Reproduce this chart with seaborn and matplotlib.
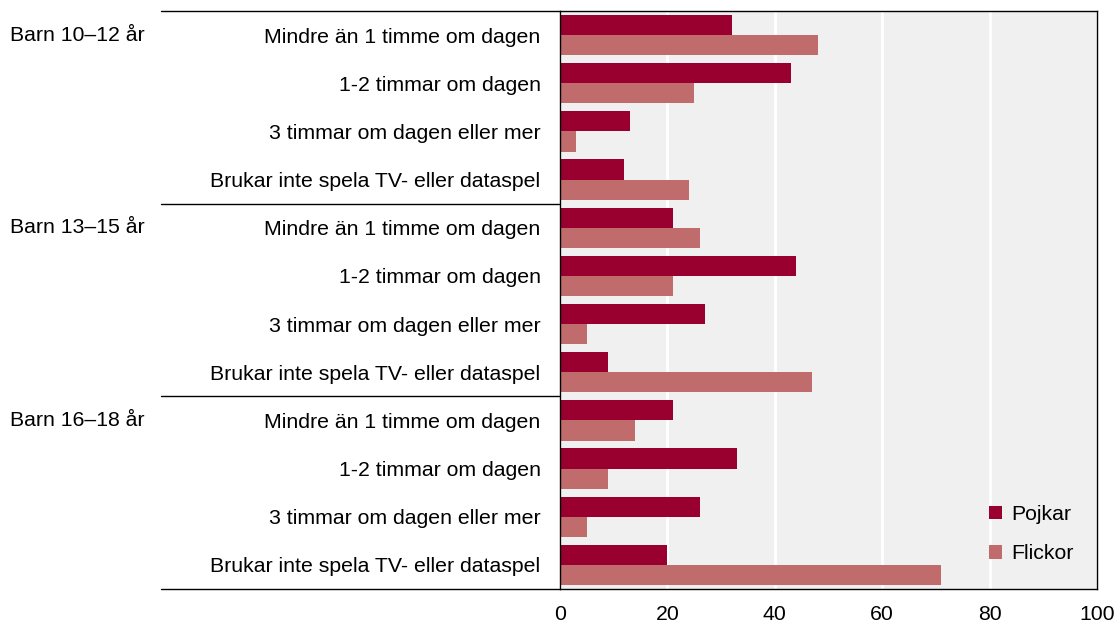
import matplotlib
matplotlib.use('Agg')
import matplotlib.pyplot as plt
import matplotlib.transforms as mtransforms
import seaborn as sns
import pandas as pd

groups = ['Barn 10–12 år', 'Barn 13–15 år', 'Barn 16–18 år']
categories = ['Mindre än 1 timme om dagen', '1-2 timmar om dagen',
              '3 timmar om dagen eller mer', 'Brukar inte spela TV- eller dataspel']
pojkar = [32, 43, 13, 12, 21, 44, 27, 9, 21, 33, 26, 20]
flickor = [48, 25, 3, 24, 26, 21, 5, 47, 14, 9, 5, 71]
series = ['Pojkar', 'Flickor']
colors = ['#990030', '#c06c6c']
xticks = [0, 20, 40, 60, 80, 100]

rows = []
for i, g in enumerate(groups):
    for j, c in enumerate(categories):
        k = i * 4 + j
        rows.append({'rad': f'{g}|{c}', 'kön': 'Pojkar', 'andel': pojkar[k]})
        rows.append({'rad': f'{g}|{c}', 'kön': 'Flickor', 'andel': flickor[k]})
df = pd.DataFrame(rows)

sns.set_style('white')
plt.rcParams['font.family'] = ['Liberation Sans', 'DejaVu Sans']
plt.rcParams['text.color'] = 'black'
plt.rcParams['xtick.color'] = 'black'
plt.rcParams['ytick.color'] = 'black'
fs = 15.3

fig = plt.figure(figsize=(11.17, 6.23), dpi=100)
ax = fig.add_axes([560 / 1117, 34 / 623, 537 / 1117, 578 / 623])
ax.set_facecolor('#f0f0f0')

sns.barplot(data=df, x='andel', y='rad', hue='kön', hue_order=series,
            palette=colors, saturation=1, orient='h', width=0.84,
            linewidth=0, ax=ax)

ax.set_xlim(0, 100)
ax.set_ylim(11.5, -0.5)
ax.set_xticks(xticks)
ax.set_xticklabels([str(t) for t in xticks], fontsize=fs)
ax.set_yticks(range(12))
ax.set_yticklabels([c for g in groups for c in categories], fontsize=fs)
ax.tick_params(axis='y', length=0, pad=14)
ax.tick_params(axis='x', length=6, width=1, color='black', direction='out', pad=5.5)
ax.set_xlabel('')
ax.set_ylabel('')
ax.set_axisbelow(True)
ax.grid(axis='x', color='white', linewidth=2)
ax.grid(axis='y', visible=False)
for s in ax.spines.values():
    s.set_visible(True)
    s.set_color('black')
    s.set_linewidth(1)

# group separators and group labels on the left
trans = mtransforms.blended_transform_factory(ax.transAxes, ax.transData)
x0 = (161 - 560) / 537
for yy in [-0.5, 3.5, 7.5, 11.5]:
    ax.plot([x0, 0], [yy, yy], color='black', linewidth=1,
            transform=trans, clip_on=False)
for i, g in enumerate(groups):
    ax.text((10 - 560) / 537, i * 4, g, transform=trans, fontsize=fs,
            ha='left', va='center')

leg = ax.legend(loc='center left', bbox_to_anchor=(0.7635, 0.0948), frameon=False,
                handlelength=0.6, handleheight=0.6, handletextpad=0.45,
                labelspacing=0.95, fontsize=fs)

fig.savefig('out.png', dpi=100)
